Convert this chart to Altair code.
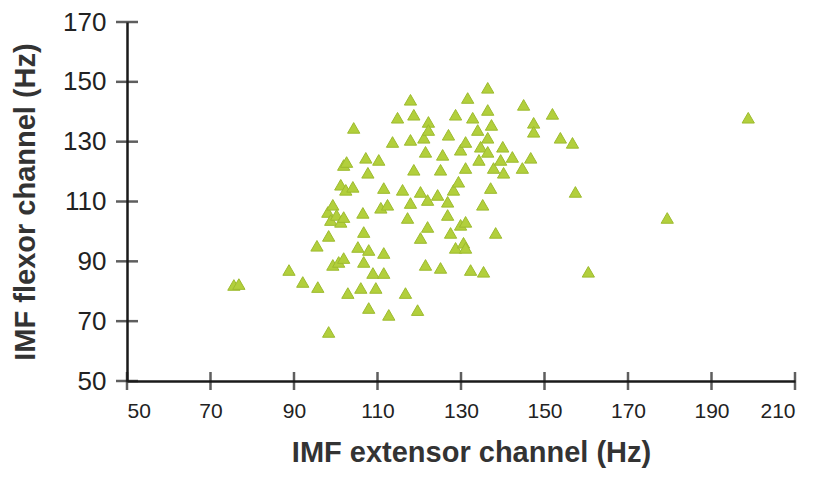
import altair as alt
import pandas as pd

# IMF extensor channel (Hz) / IMF flexor channel (Hz)
ext = [75.6, 76.8, 88.8, 92.1, 95.7, 98.3, 95.5, 98.3, 99.3, 100.7,
       101.9, 98.1, 98.8, 99.3, 100.2, 101.2, 101.9, 101.2, 102.4, 104.1,
       101.9, 102.6, 104.3, 105.3, 102.9, 106.0, 106.5, 107.2, 106.7, 107.9,
       106.7, 107.7, 107.9, 109.6, 108.9, 110.3, 110.8, 111.5, 111.5, 111.5,
       112.4, 112.7, 113.6, 114.8, 116.0, 116.7, 117.2, 117.9, 117.9, 117.9,
       118.7, 118.7, 119.6, 120.3, 120.3, 121.1, 121.5, 121.5, 122.0, 122.0,
       122.2, 122.2, 124.4, 125.1, 125.1, 125.6, 126.8, 126.8, 127.0, 127.5,
       128.2, 128.7, 128.7, 129.9, 129.9, 130.6, 131.1, 131.1, 131.6, 131.1,
       131.1, 132.8, 132.3, 134.0, 134.7, 135.2, 135.4, 136.4, 136.4, 136.4,
       136.4, 137.3, 137.1, 137.8, 138.3, 140.0, 140.2, 142.3, 144.7, 145.0,
       146.7, 147.4, 147.4, 151.9, 153.8, 156.7, 157.4, 160.5, 179.4, 198.8,
       139.5, 134.3, 129.4]
flex = [82.1, 82.4, 87.1, 83.1, 81.4, 66.4, 95.2, 98.5, 88.8, 89.8,
        91.1, 106.5, 103.8, 108.9, 105.5, 103.2, 104.8, 115.6, 113.9, 114.9,
        122.2, 123.2, 134.6, 94.8, 79.4, 81.1, 106.2, 124.6, 99.8, 93.8,
        89.8, 119.6, 74.4, 81.1, 86.1, 123.9, 107.9, 114.5, 92.8, 86.1,
        108.9, 72.1, 129.9, 138.0, 113.9, 79.4, 104.5, 109.5, 130.6, 144.0,
        139.0, 120.6, 73.7, 113.2, 97.8, 131.3, 126.6, 88.8, 101.5, 110.5,
        136.6, 133.9, 112.2, 120.6, 87.8, 125.6, 105.5, 109.9, 132.3, 99.5,
        113.9, 139.0, 94.5, 127.3, 102.2, 96.2, 94.5, 103.2, 144.6, 129.9,
        121.2, 138.0, 87.1, 133.9, 128.3, 108.9, 86.5, 148.0, 140.6, 131.3,
        126.6, 135.6, 114.5, 121.2, 99.5, 128.3, 119.6, 124.9, 121.2, 142.3,
        124.6, 136.3, 133.3, 139.3, 131.3, 129.6, 113.2, 86.5, 104.5, 138.0,
        123.9, 123.9, 116.6]

x_ticks = [50, 70, 90, 110, 130, 150, 170, 190, 210]
y_ticks = [50, 70, 90, 110, 130, 150, 170]

df = pd.DataFrame({"ext": ext, "flex": flex})
xt_df = pd.DataFrame({"ext": x_ticks, "flex": [50] * len(x_ticks)})
yt_df = pd.DataFrame({"ext": [50] * len(y_ticks), "flex": y_ticks})

FONT = "Liberation Sans, Arial, sans-serif"

xs = alt.Scale(domain=[50, 210], nice=False, zero=False)
ys = alt.Scale(domain=[50, 170], nice=False, zero=False)

xa = alt.Axis(values=x_ticks, title="IMF extensor channel (Hz)", ticks=False, grid=False,
              domainColor="#1a1a1a", domainWidth=2.5, labelFont=FONT, labelFontSize=21,
              labelColor="#222222", labelPadding=19, titleFont=FONT, titleFontSize=29,
              titleFontWeight="bold", titleColor="#333333", titlePadding=17,
              titleX=344, titleAlign="center")
ya = alt.Axis(values=y_ticks, title="IMF flexor channel (Hz)", ticks=False, grid=False,
              domainColor="#1a1a1a", domainWidth=2.5, labelFont=FONT, labelFontSize=26,
              labelColor="#222222", labelPadding=21, titleFont=FONT, titleFontSize=29,
              titleFontWeight="bold", titleColor="#333333", titlePadding=22)

pts = alt.Chart(df).mark_point(shape="triangle-up", filled=True, size=150, fill="#b2cf3c",
                               stroke="#9dbb2e", strokeWidth=1, opacity=1).encode(
    x=alt.X("ext:Q", scale=xs, axis=xa),
    y=alt.Y("flex:Q", scale=ys, axis=ya),
)

xtick = alt.Chart(xt_df).mark_tick(orient="vertical", size=18, thickness=2.5, color="#1a1a1a").encode(
    x=alt.X("ext:Q", scale=xs, axis=xa),
    y=alt.Y("flex:Q", scale=ys, axis=ya),
)
ytick = alt.Chart(yt_df).mark_tick(orient="horizontal", size=22, thickness=2.5, color="#1a1a1a").encode(
    x=alt.X("ext:Q", scale=xs, axis=xa),
    y=alt.Y("flex:Q", scale=ys, axis=ya),
)

chart = alt.layer(pts, xtick, ytick).properties(
    width=668, height=359,
    autosize=alt.AutoSizeParams(type="none"),
    padding={"left": 119, "top": 14, "right": 11, "bottom": 89},
    background="white",
).configure_view(stroke=None)

chart.save("out.html", embed_options={"renderer": "svg", "actions": False})
